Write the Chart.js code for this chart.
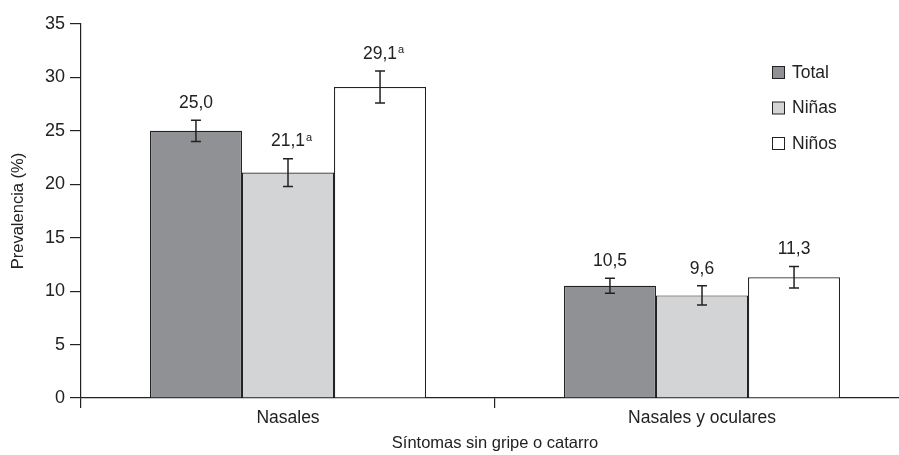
<!DOCTYPE html>
<html>
<head>
<meta charset="utf-8">
<script src="https://cdn.jsdelivr.net/npm/chart.js@4/dist/chart.umd.min.js"></script>
<style>
  html, body { margin: 0; padding: 0; background: #fff; overflow: hidden; }
  #wrap { width: 920px; height: 455px; }
</style>
</head>
<body>
<div id="wrap"><canvas id="chart" width="920" height="455"></canvas></div>
<script>
// Categories and series
const categories = ['Nasales', 'Nasales y oculares'];
const seriesNames = ['Total', 'Niñas', 'Niños'];
const totalValues = [25.0, 10.5];
const ninasValues = [21.1, 9.6];
const ninosValues = [29.1, 11.3];
// Half-width of the confidence intervals
const totalErrors = [1.0, 0.7];
const ninasErrors = [1.3, 0.9];
const ninosErrors = [1.5, 1.0];
// Superscript marks on the value labels
const totalMarks = ['', ''];
const ninasMarks = ['a', ''];
const ninosMarks = ['a', ''];
// Y-axis range
const yMin = 0, yMax = 35, yStep = 5;

const FONT = '"Liberation Sans", Arial, Helvetica, sans-serif';
const INK = '#222';
const LABEL_SIZE = 17.5;

const fmt = v => v.toFixed(1).replace('.', ',');

// Error bars, value labels and legend drawn on top of the bars
const overlayPlugin = {
  id: 'overlay',
  afterDatasetsDraw(chart) {
    const ctx = chart.ctx;
    const y = chart.scales.y;
    chart.data.datasets.forEach((ds, di) => {
      const meta = chart.getDatasetMeta(di);
      meta.data.forEach((bar, i) => {
        const v = ds.data[i];
        const e = ds.errors[i];
        const yTop = y.getPixelForValue(v + e);
        const yBot = y.getPixelForValue(v - e);
        const x = bar.x;
        ctx.save();
        ctx.strokeStyle = INK;
        ctx.lineWidth = 1.5;
        ctx.beginPath();
        ctx.moveTo(x, yTop); ctx.lineTo(x, yBot);
        ctx.moveTo(x - 5, yTop); ctx.lineTo(x + 5, yTop);
        ctx.moveTo(x - 5, yBot); ctx.lineTo(x + 5, yBot);
        ctx.stroke();
        // value label
        const txt = fmt(v);
        const mark = ds.marks[i];
        ctx.font = LABEL_SIZE + 'px ' + FONT;
        ctx.fillStyle = INK;
        ctx.textBaseline = 'middle';
        const w = ctx.measureText(txt).width;
        ctx.font = '11px ' + FONT;
        const mw = mark ? ctx.measureText(mark).width + 1 : 0;
        const startX = x - (w + mw) / 2 + (mark ? mw / 2 : 0);
        const ly = yTop - 17;
        ctx.font = LABEL_SIZE + 'px ' + FONT;
        ctx.textAlign = 'left';
        ctx.fillText(txt, startX, ly);
        if (mark) {
          ctx.font = '11px ' + FONT;
          ctx.fillText(mark, startX + w + 1, ly - 4);
        }
        ctx.restore();
      });
    });
    // legend
    ctx.save();
    chart.data.datasets.forEach((ds, di) => {
      const cy = 73 + di * 35.5;
      ctx.fillStyle = ds.backgroundColor;
      ctx.strokeStyle = INK;
      ctx.lineWidth = 1;
      ctx.fillRect(772.5, cy - 6.5, 12, 12);
      ctx.strokeRect(772.5, cy - 6.5, 12, 12);
      ctx.fillStyle = INK;
      ctx.font = LABEL_SIZE + 'px ' + FONT;
      ctx.textAlign = 'left';
      ctx.textBaseline = 'middle';
      ctx.fillText(ds.label, 792, cy);
    });
    ctx.restore();
  }
};

const mk = (label, data, errors, marks, color) => ({
  label, data, errors, marks,
  backgroundColor: color,
  borderColor: INK,
  borderWidth: 1.2,
  categoryPercentage: 0.667,
  barPercentage: 1.0
});

new Chart(document.getElementById('chart'), {
  type: 'bar',
  data: {
    labels: categories,
    datasets: [
      mk(seriesNames[0], totalValues, totalErrors, totalMarks, '#909195'),
      mk(seriesNames[1], ninasValues, ninasErrors, ninasMarks, '#d3d4d6'),
      mk(seriesNames[2], ninosValues, ninosErrors, ninosMarks, '#ffffff')
    ]
  },
  options: {
    responsive: false,
    animation: false,
    layout: { padding: { top: 24, right: 11, left: 0, bottom: 0 } },
    plugins: { legend: { display: false }, tooltip: { enabled: false } },
    scales: {
      x: {
        offset: true,
        grid: { offset: true, drawOnChartArea: false, color: INK, tickLength: 10, lineWidth: 1.2 },
        border: { color: INK, width: 1.2 },
        ticks: { color: INK, font: { family: FONT, size: LABEL_SIZE }, padding: 0 },
        title: { display: true, text: 'Síntomas sin gripe o catarro', color: INK,
                 font: { family: FONT, size: 16.5 }, padding: { top: 2, bottom: 2 } },
        afterFit(s) { s.height = 57; }
      },
      y: {
        min: yMin, max: yMax,
        ticks: { stepSize: yStep, color: INK, font: { family: FONT, size: 18 }, padding: 5 },
        grid: { drawOnChartArea: false, color: INK, tickLength: 11, lineWidth: 1.2 },
        border: { color: INK, width: 1.2 },
        title: { display: true, text: 'Prevalencia (%)', color: INK,
                 font: { family: FONT, size: 16.5 }, padding: { top: 9, bottom: 2 } },
        afterFit(s) { s.width = 81; }
      }
    }
  },
  plugins: [overlayPlugin]
});
</script>
</body>
</html>
